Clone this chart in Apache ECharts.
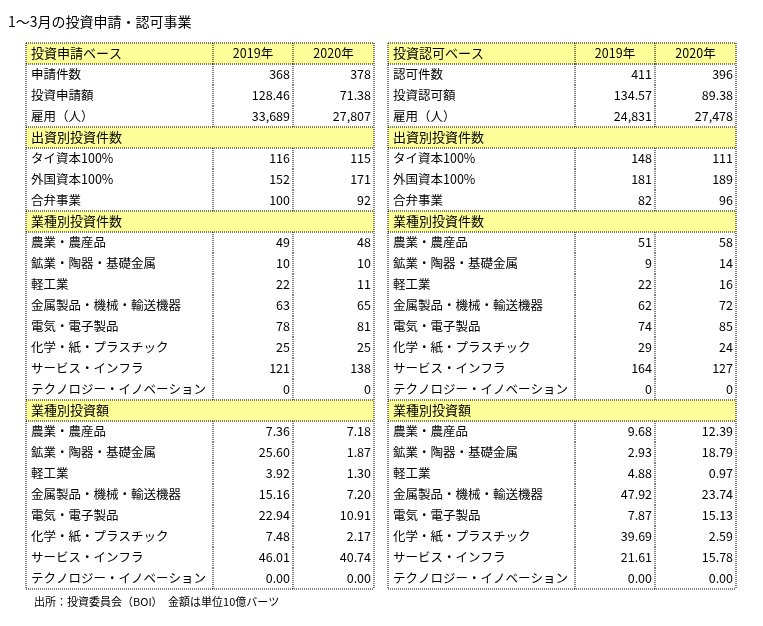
<!DOCTYPE html>
<html><head><meta charset="utf-8">
<script src="https://cdn.jsdelivr.net/npm/echarts@6/dist/echarts.min.js"></script>
<style>html,body{margin:0;padding:0;background:#fff}#c{width:763px;height:626px}</style>
</head><body><div id="c"></div>
<script>
var title = '1～3月の投資申請・認可事業';
var footer = '出所：投資委員会（BOI）　金額は単位10億バーツ';
var years = ['2019年', '2020年'];
var leftHeads = ['投資申請ベース', '出資別投資件数', '業種別投資件数', '業種別投資額'];
var rightHeads = ['投資認可ベース', '出資別投資件数', '業種別投資件数', '業種別投資額'];
var leftBase = ['申請件数', '投資申請額', '雇用（人）'];
var rightBase = ['認可件数', '投資認可額', '雇用（人）'];
var capital = ['タイ資本100%', '外国資本100%', '合弁事業'];
var sectors = ['農業・農産品', '鉱業・陶器・基礎金属', '軽工業', '金属製品・機械・輸送機器', '電気・電子製品', '化学・紙・プラスチック', 'サービス・インフラ', 'テクノロジー・イノベーション'];
// application side [2019, 2020]
var appBase = [['368', '378'], ['128.46', '71.38'], ['33,689', '27,807']];
var appCapital = [['116', '115'], ['152', '171'], ['100', '92']];
var appCount = [['49', '48'], ['10', '10'], ['22', '11'], ['63', '65'], ['78', '81'], ['25', '25'], ['121', '138'], ['0', '0']];
var appValue = [['7.36', '7.18'], ['25.60', '1.87'], ['3.92', '1.30'], ['15.16', '7.20'], ['22.94', '10.91'], ['7.48', '2.17'], ['46.01', '40.74'], ['0.00', '0.00']];
// approval side
var aprBase = [['411', '396'], ['134.57', '89.38'], ['24,831', '27,478']];
var aprCapital = [['148', '111'], ['181', '189'], ['82', '96']];
var aprCount = [['51', '58'], ['9', '14'], ['22', '16'], ['62', '72'], ['74', '85'], ['29', '24'], ['164', '127'], ['0', '0']];
var aprValue = [['9.68', '12.39'], ['2.93', '18.79'], ['4.88', '0.97'], ['47.92', '23.74'], ['7.87', '15.13'], ['39.69', '2.59'], ['21.61', '15.78'], ['0.00', '0.00']];

var chart = echarts.init(document.getElementById('c'));
var FONT = '"Noto Sans CJK JP", sans-serif';
var top0 = 43, rh = 21;
var els = [];
var dot = {stroke: '#000', lineWidth: 1, lineDash: [1, 1]};

function line(x1, y1, x2, y2) {
  els.push({type: 'line', shape: {x1: x1, y1: y1, x2: x2, y2: y2}, style: dot, z: 5});
}
function txt(x, y, s, align, size) {
  els.push({type: 'text', x: x, y: y, z: 10, style: {text: s, font: (size || 12.5) + 'px ' + FONT, fill: '#000', align: align || 'left', verticalAlign: 'middle'}});
}

function table(x0, heads, base, groups) {
  var c1 = x0 + 187, c2 = x0 + 267, x3 = x0 + 348;
  var rows = [];
  rows.push({head: heads[0], years: true});
  base.forEach(function (l, i) { rows.push({label: l, v: groups[0][i]}); });
  rows.push({head: heads[1]});
  capital.forEach(function (l, i) { rows.push({label: l, v: groups[1][i]}); });
  rows.push({head: heads[2]});
  sectors.forEach(function (l, i) { rows.push({label: l, v: groups[2][i]}); });
  rows.push({head: heads[3]});
  sectors.forEach(function (l, i) { rows.push({label: l, v: groups[3][i]}); });
  var bottom = top0 + rows.length * rh;
  rows.forEach(function (r, i) {
    var y = top0 + i * rh, cy = y + rh / 2;
    if (r.head) {
      els.push({type: 'rect', shape: {x: x0, y: y, width: x3 - x0, height: rh}, style: {fill: '#ffff99'}, z: 1});
      line(x0, y, x3, y);
      line(x0, y + rh, x3, y + rh);
      txt(x0 + 5, cy, r.head, 'left', 13);
      if (r.years) {
        line(c1, y, c1, y + rh);
        line(c2, y, c2, y + rh);
        txt((c1 + c2) / 2, cy, years[0], 'center');
        txt((c2 + x3) / 2, cy, years[1], 'center');
      }
    } else {
      line(c1, y, c1, y + rh);
      line(c2, y, c2, y + rh);
      txt(x0 + 5, cy, r.label);
      txt(c2 - 3, cy, r.v[0], 'right');
      txt(x3 - 3, cy, r.v[1], 'right');
    }
  });
  line(x0, top0, x0, bottom);
  line(x3, top0, x3, bottom);
  line(x0, bottom, x3, bottom);
}

table(26, leftHeads, leftBase, [appBase, appCapital, appCount, appValue]);
table(388, rightHeads, rightBase, [aprBase, aprCapital, aprCount, aprValue]);
txt(8, 22, title, 'left', 14);
els.push({type: 'text', x: 34, y: 602, z: 10, style: {text: footer, font: '11px ' + FONT, fill: '#000', verticalAlign: 'middle'}});

chart.setOption({backgroundColor: '#fff', animation: false, graphic: {elements: els}});
</script></body></html>
